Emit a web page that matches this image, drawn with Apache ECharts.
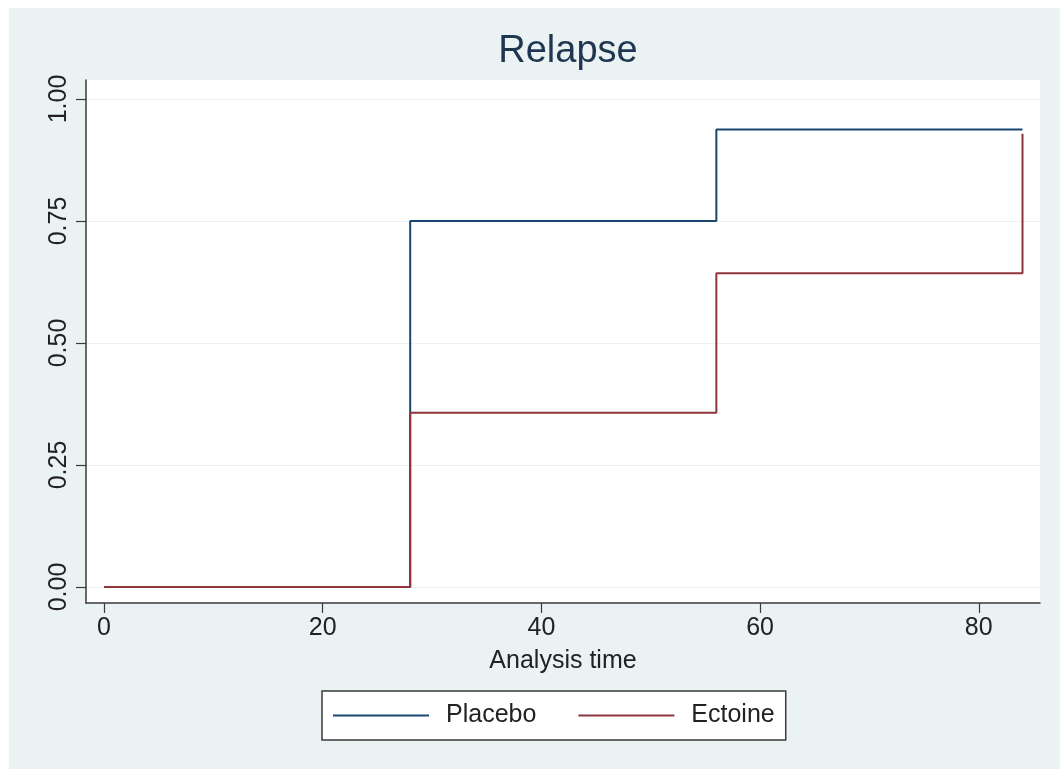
<!DOCTYPE html>
<html>
<head>
<meta charset="utf-8">
<script src="https://cdn.jsdelivr.net/npm/echarts@6/dist/echarts.min.js"></script>
<style>
  html, body { margin: 0; padding: 0; background: #ffffff; }
  #chart { position: absolute; left: 9px; top: 8px; width: 1051px; height: 761px; }
</style>
</head>
<body>
<div id="chart"></div>
<script>
// Kaplan–Meier failure estimates (1 - survival) by treatment arm
const analysisTime = [0, 28, 56, 84];
const placebo = [0, 0.75, 0.9375, 0.9375];
const ectoine = [0, 0.357, 0.643, 0.929];
const seriesNames = ['Placebo', 'Ectoine'];
const xTicks = [0, 20, 40, 60, 80];
const yTicks = [0, 0.25, 0.5, 0.75, 1];

const pair = (xs, ys) => xs.map((x, i) => [x, ys[i]]);
const font = 'Liberation Sans, Arial, sans-serif';

const chart = echarts.init(document.getElementById('chart'));
chart.setOption({
  animation: false,
  backgroundColor: '#eaf2f3',
  title: {
    text: 'Relapse',
    left: 554,
    textAlign: 'center',
    top: 20,
    textStyle: { fontFamily: font, fontSize: 38, fontWeight: 'normal', color: '#1f3650' }
  },
  grid: {
    left: 77, top: 72, right: 20, bottom: 166,
    show: true, backgroundColor: '#ffffff', borderWidth: 0
  },
  legend: {
    data: seriesNames,
    left: 313, top: 683,
    orient: 'horizontal',
    padding: [12, 11],
    itemGap: 42,
    itemWidth: 96, itemHeight: 2,
    icon: 'rect',
    backgroundColor: '#ffffff',
    borderColor: '#3a3a3a', borderWidth: 1.5, borderRadius: 0,
    textStyle: { fontFamily: font, fontSize: 25, color: '#222222', padding: [0, 0, 0, 12], lineHeight: 25 }
  },
  xAxis: {
    type: 'value',
    min: -1.65, max: 85.6,
    name: 'Analysis time',
    nameLocation: 'middle',
    nameGap: 46,
    nameTextStyle: { fontFamily: font, fontSize: 25, color: '#222222' },
    axisLine: { show: true, onZero: false, lineStyle: { color: '#3a3a3a', width: 1.5 } },
    axisTick: { show: true, length: 10, customValues: xTicks, lineStyle: { color: '#3a3a3a', width: 1.2 } },
    axisLabel: { customValues: xTicks, margin: 13, fontFamily: font, fontSize: 25, color: '#222222' },
    splitLine: { show: false }
  },
  yAxis: {
    type: 'value',
    min: -0.0328, max: 1.0389,
    axisLine: { show: true, onZero: false, lineStyle: { color: '#3a3a3a', width: 1.5 } },
    axisTick: { show: true, length: 10, customValues: yTicks, lineStyle: { color: '#3a3a3a', width: 1.2 } },
    axisLabel: {
      customValues: yTicks, rotate: 90, margin: 14,
      fontFamily: font, fontSize: 25, color: '#222222',
      formatter: v => v.toFixed(2)
    },
    splitLine: { show: true, lineStyle: { color: '#eaf2f3', width: 1.2 } }
  },
  series: [
    {
      name: seriesNames[0], type: 'line', step: 'end',
      data: pair(analysisTime, placebo),
      symbol: 'none',
      itemStyle: { color: '#1a476f' },
      lineStyle: { color: '#1a476f', width: 2 }
    },
    {
      name: seriesNames[1], type: 'line', step: 'end',
      data: pair(analysisTime, ectoine),
      symbol: 'none',
      itemStyle: { color: '#90353b' },
      lineStyle: { color: '#90353b', width: 2 }
    }
  ]
});
</script>
</body>
</html>
